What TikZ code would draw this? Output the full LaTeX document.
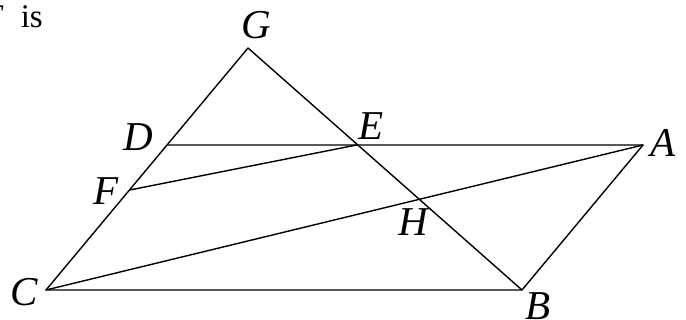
\documentclass[tikz,border=0pt]{standalone}
\usepackage{fontspec}
\setmainfont{Liberation Serif}
\usetikzlibrary{calc}
\begin{document}
\begin{tikzpicture}[x=1pt,y=-1pt,
  seg/.style={line width=1.4pt, line cap=round, line join=round},
  lbl/.style={inner sep=0pt, anchor=base, font=\fontsize{41}{43}\selectfont\itshape}]
\useasboundingbox (0,0) rectangle (686,320);
\coordinate (C) at (46,290);
\coordinate (B) at (522,290);
\coordinate (A) at (643,145);
\coordinate (G) at (248,48);
\coordinate (D) at ($(C)!0.599!(G)$);
\coordinate (E) at ($(G)!0.4!(B)$);
\coordinate (F) at ($(C)!0.413!(G)$);
\coordinate (H) at (intersection of C--A and G--B);
\draw[seg] (C) -- (G) -- (B) -- cycle;
\draw[seg] (D) -- (A) -- (B);
\draw[seg] (C) -- (A);
\draw[seg] (F) -- (E);
\node[lbl] (lG) at (256,39) {G};
\node[lbl] (lD) at (138,151) {D};
\node[lbl] (lE) at (371,140) {E};
\node[lbl] (lF) at (106,205) {F};
\node[lbl] (lH) at (413,236) {H};
\node[lbl] (lA) at (663,157) {A};
\node[lbl] (lC) at (24,306) {C};
\node[lbl] (lB) at (538,320) {B};
\node[inner sep=0pt, anchor=base east, font=\fontsize{33}{35}\selectfont] (txt) at (43,28) {\textit{F}\hspace{9pt} is};
\end{tikzpicture}
\end{document}
